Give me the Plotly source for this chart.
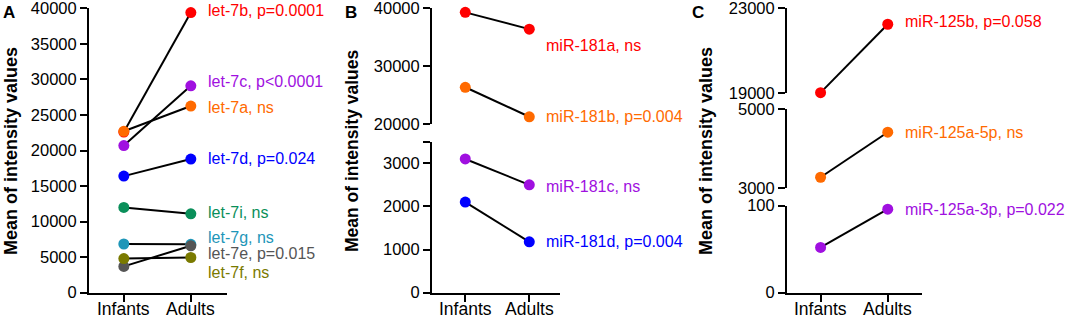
import plotly.graph_objects as go

# ---------------- data ----------------
groups = ["Infants", "Adults"]

A_names = ["let-7b, p=0.0001", "let-7c, p<0.0001", "let-7a, ns", "let-7d, p=0.024",
           "let-7i, ns", "let-7g, ns", "let-7e, p=0.015", "let-7f, ns"]
A_infants = [22600, 20700, 22700, 16400, 12000, 6850, 3700, 4800]
A_adults = [39400, 29100, 26250, 18800, 11100, 6800, 6600, 4950]

B_names = ["miR-181a, ns", "miR-181b, p=0.004", "miR-181c, ns", "miR-181d, p=0.004"]
B_infants = [39300, 26350, 3100, 2100]
B_adults = [36400, 21250, 2500, 1180]

C_names = ["miR-125b, p=0.058", "miR-125a-5p, ns", "miR-125a-3p, p=0.022"]
C_infants = [19030, 3280, 52]
C_adults = [22250, 4420, 96]

A_ticks = [0, 5000, 10000, 15000, 20000, 25000, 30000, 35000, 40000]
B_ticks_hi = [20000, 30000, 40000]
B_ticks_lo = [0, 1000, 2000, 3000, 3500]
C_ticks_hi = [19000, 23000]
C_ticks_mid = [3000, 5000]
C_ticks_lo = [0, 100]

# ---------------- styles / layout ----------------
A_colors = ["#FF0000", "#A010E0", "#FF6A00", "#0000FF", "#0A8F5A", "#1E96B8", "#555555", "#7A7A00"]
B_colors = ["#FF0000", "#FF6A00", "#A010E0", "#0000FF"]
C_colors = ["#FF0000", "#FF6A00", "#A010E0"]
A_shift = [-2, -4, 1, -1, -1, -7, 8, 15]
B_shift = [16, 0, 2, 0]
C_shift = [-3, 0, 0]

W, H = 1074, 319
FONT = "Arial, 'Liberation Sans', sans-serif"


def fx(p):
    return p / W


def fy(p):
    return 1 - p / H


def lab(ticks, hidden=()):
    return ["" if t in hidden else str(t) for t in ticks]


panels = [
    dict(letter="A", letter_x=9, names=A_names, inf=A_infants, adu=A_adults, colors=A_colors,
         shifts=A_shift, xdom=(89, 227), xrange=[-0.52, 1.54], title_x=11, title_size=18,
         segs=[dict(range=[0, 40000], dom=(8.3, 292.7), tickvals=A_ticks, ticktext=lab(A_ticks))]),
    dict(letter="B", letter_x=351, names=B_names, inf=B_infants, adu=B_adults, colors=B_colors,
         shifts=B_shift, xdom=(432, 560), xrange=[-0.52, 1.48], title_x=352, title_size=17.5,
         segs=[dict(range=[20000, 40000], dom=(8.3, 124), tickvals=B_ticks_hi, ticktext=lab(B_ticks_hi)),
               dict(range=[0, 3500], dom=(141.7, 292.7), tickvals=B_ticks_lo,
                    ticktext=lab(B_ticks_lo, hidden=(3500,)))]),
    dict(letter="C", letter_x=698, names=C_names, inf=C_infants, adu=C_adults, colors=C_colors,
         shifts=C_shift, xdom=(787, 922), xrange=[-0.5, 1.51], title_x=706, title_size=18,
         segs=[dict(range=[19000, 23000], dom=(8.3, 93.3), tickvals=C_ticks_hi, ticktext=lab(C_ticks_hi)),
               dict(range=[3000, 5000], dom=(109.3, 188.3), tickvals=C_ticks_mid, ticktext=lab(C_ticks_mid)),
               dict(range=[0, 100], dom=(205.7, 292.7), tickvals=C_ticks_lo, ticktext=lab(C_ticks_lo))]),
]

fig = go.Figure()
layout = {}
annotations = []
line_traces = []
marker_traces = []

axis_common = dict(showline=True, linecolor="black", linewidth=2, ticks="outside", ticklen=7,
                   tickwidth=2, tickcolor="black", showgrid=False, zeroline=False, fixedrange=True,
                   automargin=False, ticklabeloverflow="allow")

xi = 0
yi = 0
overlay_axes = []
for p in panels:
    xi += 1
    xname = "x" if xi == 1 else f"x{xi}"
    xkey = "xaxis" if xi == 1 else f"xaxis{xi}"
    seg_names = []
    nseg = len(p["segs"])
    for si, s in enumerate(p["segs"]):
        yi += 1
        yname = "y" if yi == 1 else f"y{yi}"
        ykey = "yaxis" if yi == 1 else f"yaxis{yi}"
        layout[ykey] = dict(domain=[fy(s["dom"][1]), fy(s["dom"][0])], anchor=xname, range=s["range"],
                            tickmode="array", tickvals=s["tickvals"], ticktext=s["ticktext"],
                            tickfont=dict(family=FONT, size=16.5, color="black"), **axis_common)
        seg_names.append((yname, s))
        # break-end marks (short inward ticks where the axis is broken)
        ends = []
        if si > 0:
            ends.append(s["range"][1])
        if si < nseg - 1:
            ends.append(s["range"][0])
        if ends:
            overlay_axes.append((yname, ykey, xname, s, ends))
    bottom = max(seg_names, key=lambda t: t[1]["dom"][1])[0]
    layout[xkey] = dict(domain=[fx(p["xdom"][0]), fx(p["xdom"][1])], anchor=bottom, type="category",
                        categoryorder="array", categoryarray=groups, range=p["xrange"],
                        showticklabels=False, **axis_common)
    for gi, g in enumerate(groups):
        annotations.append(dict(x=gi, y=fy(309), xref=xname, yref="paper", text=g, showarrow=False,
                                xanchor="center", yanchor="middle",
                                font=dict(family=FONT, size=17.5, color="black")))

    def seg_of(v):
        for yname, s in seg_names:
            if s["range"][0] <= v <= s["range"][1]:
                return yname
        return seg_names[-1][0]

    for name, a, b, c, sh in zip(p["names"], p["inf"], p["adu"], p["colors"], p["shifts"]):
        yname = seg_of(a)
        line_traces.append(go.Scatter(x=groups, y=[a, b], mode="lines", xaxis=xname, yaxis=yname,
                                      line=dict(color="black", width=2), cliponaxis=False,
                                      hoverinfo="skip", showlegend=False))
        marker_traces.append(go.Scatter(x=groups, y=[a, b], mode="markers", xaxis=xname, yaxis=yname,
                                        marker=dict(color=c, size=11, line=dict(width=0)),
                                        cliponaxis=False, name=name, showlegend=False))
        annotations.append(dict(x=groups.index("Adults"), y=b, xref=xname, yref=yname, text=name,
                                showarrow=False, xanchor="left", yanchor="middle", xshift=15, yshift=-sh,
                                font=dict(family=FONT, size=16, color=c)))

    annotations.append(dict(x=fx(p["title_x"]), y=fy(151), xref="paper", yref="paper",
                            text="<b>Mean of intensity values</b>", textangle=-90, showarrow=False,
                            xanchor="center", yanchor="middle",
                            font=dict(family=FONT, size=p["title_size"], color="black")))
    annotations.append(dict(x=fx(p["letter_x"]), y=fy(13), xref="paper", yref="paper",
                            text=f"<b>{p['letter']}</b>", showarrow=False, xanchor="center",
                            yanchor="middle", font=dict(family=FONT, size=17, color="black")))

# overlay axes that draw the small inward marks at the axis breaks
for yname, ykey, xname, s, ends in overlay_axes:
    yi += 1
    okey = f"yaxis{yi}"
    layout[okey] = dict(domain=[fy(s["dom"][1]), fy(s["dom"][0])], anchor=xname, overlaying=yname,
                        range=s["range"], tickmode="array", tickvals=ends, showticklabels=False,
                        showline=False, ticks="inside", ticklen=5, tickwidth=2, tickcolor="black",
                        showgrid=False, zeroline=False, fixedrange=True, automargin=False)

for t in line_traces + marker_traces:
    fig.add_trace(t)

fig.update_layout(width=W, height=H, autosize=False, margin=dict(l=0, r=0, t=0, b=0),
                  paper_bgcolor="white", plot_bgcolor="white", annotations=annotations,
                  font=dict(family=FONT), **layout)

fig.write_html("out.html", config={"displayModeBar": False},
               post_script="document.body.style.margin='0';document.body.style.overflow='hidden';")
